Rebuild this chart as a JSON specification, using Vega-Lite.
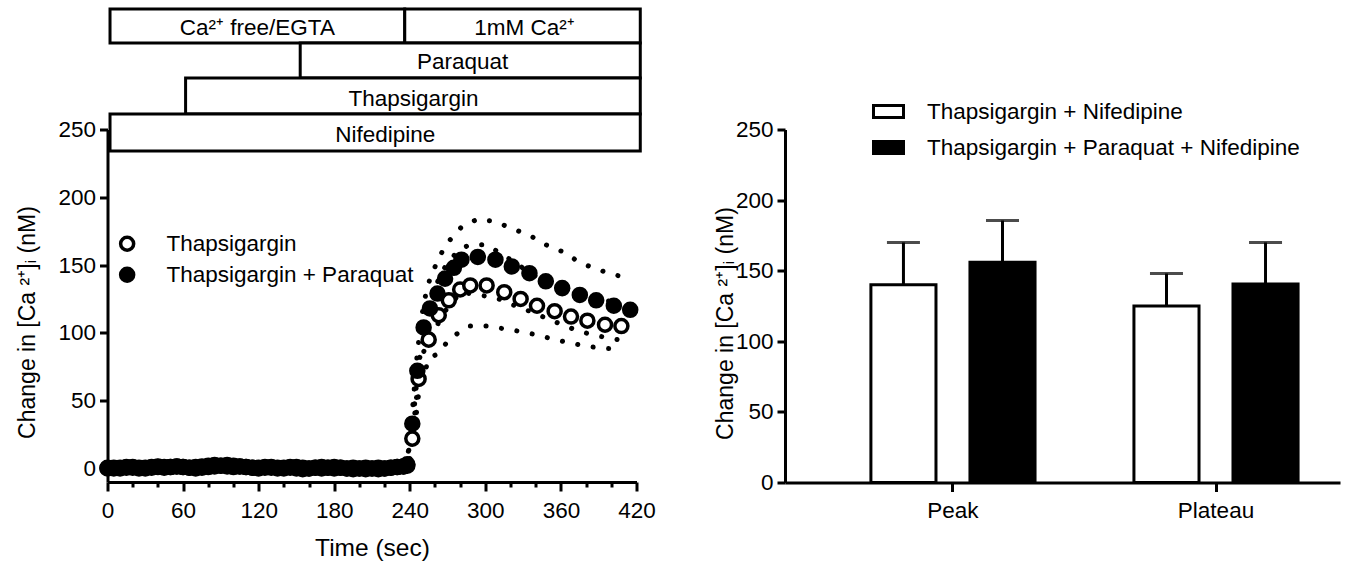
{
  "$schema": "https://vega.github.io/schema/vega-lite/v6.json",
  "background": "white",
  "padding": {"left": 15.5, "top": 6.5, "right": 10, "bottom": 5},
  "bounds": "flush",
  "spacing": 148.5,
  "resolve": {"scale": {"fill": "independent"}, "legend": {"fill": "independent"}},
  "config": {
    "view": {"stroke": null},
    "font": "Liberation Sans",
    "axis": {
      "domainColor": "black", "domainWidth": 3, "tickColor": "black", "tickWidth": 3,
      "labelFont": "Liberation Sans", "labelFontSize": 22.5, "labelColor": "black",
      "titleFont": "Liberation Sans", "titleFontSize": 23, "titleFontWeight": "normal", "titleColor": "black",
      "grid": false, "labelOverlap": false
    },
    "legend": {"labelFont": "Liberation Sans", "labelFontSize": 22.5, "labelColor": "black", "labelLimit": 600}
  },
  "datasets": {
    "boxes": [
      {"lbl": "Ca²⁺ free/EGTA", "s": 2, "e": 236, "y1": 313.8, "y2": 338.9, "lt": 119, "ym": 324.9},
      {"lbl": "1mM Ca²⁺", "s": 236, "e": 423, "y1": 313.8, "y2": 338.9, "lt": 331, "ym": 324.9},
      {"lbl": "Paraquat", "s": 153, "e": 423, "y1": 288.0, "y2": 313.8, "lt": 282, "ym": 299.8},
      {"lbl": "Thapsigargin", "s": 62, "e": 423, "y1": 261.4, "y2": 288.0, "lt": 243, "ym": 272.5},
      {"lbl": "Nifedipine", "s": 2, "e": 423, "y1": 234.1, "y2": 261.4, "lt": 220.5, "ym": 245.9}
    ],
    "ts": [
      {"g": "Thapsigargin", "t": 0, "m": 0.5, "hi": 3.5, "lo": -2.5},
      {"g": "Thapsigargin", "t": 5, "m": 0, "hi": 3, "lo": -3},
      {"g": "Thapsigargin", "t": 10, "m": 0.5, "hi": 3.5, "lo": -2.5},
      {"g": "Thapsigargin", "t": 15, "m": 1, "hi": 4, "lo": -2},
      {"g": "Thapsigargin", "t": 20, "m": 0.5, "hi": 3.5, "lo": -2.5},
      {"g": "Thapsigargin", "t": 25, "m": 0, "hi": 3, "lo": -3},
      {"g": "Thapsigargin", "t": 30, "m": 0.5, "hi": 3.5, "lo": -2.5},
      {"g": "Thapsigargin", "t": 35, "m": 1, "hi": 4, "lo": -2},
      {"g": "Thapsigargin", "t": 40, "m": 1.5, "hi": 4.5, "lo": -1.5},
      {"g": "Thapsigargin", "t": 45, "m": 1, "hi": 4, "lo": -2},
      {"g": "Thapsigargin", "t": 50, "m": 1, "hi": 4, "lo": -2},
      {"g": "Thapsigargin", "t": 55, "m": 1.5, "hi": 4.5, "lo": -1.5},
      {"g": "Thapsigargin", "t": 60, "m": 1, "hi": 4, "lo": -2},
      {"g": "Thapsigargin", "t": 65, "m": 0.5, "hi": 3.5, "lo": -2.5},
      {"g": "Thapsigargin", "t": 70, "m": 1, "hi": 4, "lo": -2},
      {"g": "Thapsigargin", "t": 75, "m": 1.5, "hi": 4.5, "lo": -1.5},
      {"g": "Thapsigargin", "t": 80, "m": 2, "hi": 5, "lo": -1},
      {"g": "Thapsigargin", "t": 85, "m": 2.5, "hi": 5.5, "lo": -0.5},
      {"g": "Thapsigargin", "t": 90, "m": 2, "hi": 5, "lo": -1},
      {"g": "Thapsigargin", "t": 95, "m": 1.5, "hi": 4.5, "lo": -1.5},
      {"g": "Thapsigargin", "t": 100, "m": 1, "hi": 4, "lo": -2},
      {"g": "Thapsigargin", "t": 105, "m": 1.5, "hi": 4.5, "lo": -1.5},
      {"g": "Thapsigargin", "t": 110, "m": 1, "hi": 4, "lo": -2},
      {"g": "Thapsigargin", "t": 115, "m": 0.5, "hi": 3.5, "lo": -2.5},
      {"g": "Thapsigargin", "t": 120, "m": 0.5, "hi": 3.5, "lo": -2.5},
      {"g": "Thapsigargin", "t": 125, "m": 1, "hi": 4, "lo": -2},
      {"g": "Thapsigargin", "t": 130, "m": 0.5, "hi": 3.5, "lo": -2.5},
      {"g": "Thapsigargin", "t": 135, "m": 0, "hi": 3, "lo": -3},
      {"g": "Thapsigargin", "t": 140, "m": 0.5, "hi": 3.5, "lo": -2.5},
      {"g": "Thapsigargin", "t": 145, "m": 1, "hi": 4, "lo": -2},
      {"g": "Thapsigargin", "t": 150, "m": 1, "hi": 4, "lo": -2},
      {"g": "Thapsigargin", "t": 155, "m": 0.5, "hi": 3.5, "lo": -2.5},
      {"g": "Thapsigargin", "t": 160, "m": 0, "hi": 3, "lo": -3},
      {"g": "Thapsigargin", "t": 165, "m": 0.5, "hi": 3.5, "lo": -2.5},
      {"g": "Thapsigargin", "t": 170, "m": 1, "hi": 4, "lo": -2},
      {"g": "Thapsigargin", "t": 175, "m": 0.5, "hi": 3.5, "lo": -2.5},
      {"g": "Thapsigargin", "t": 180, "m": 0, "hi": 3, "lo": -3},
      {"g": "Thapsigargin", "t": 185, "m": 0.5, "hi": 3.5, "lo": -2.5},
      {"g": "Thapsigargin", "t": 190, "m": 0, "hi": 3, "lo": -3},
      {"g": "Thapsigargin", "t": 195, "m": -0.5, "hi": 2.5, "lo": -3.5},
      {"g": "Thapsigargin", "t": 200, "m": 0, "hi": 3, "lo": -3},
      {"g": "Thapsigargin", "t": 205, "m": 0.5, "hi": 3.5, "lo": -2.5},
      {"g": "Thapsigargin", "t": 210, "m": 0, "hi": 3, "lo": -3},
      {"g": "Thapsigargin", "t": 215, "m": -0.5, "hi": 2.5, "lo": -3.5},
      {"g": "Thapsigargin", "t": 220, "m": 0, "hi": 3, "lo": -3},
      {"g": "Thapsigargin", "t": 225, "m": 0.5, "hi": 3.5, "lo": -2.5},
      {"g": "Thapsigargin", "t": 230, "m": 1, "hi": 4, "lo": -2},
      {"g": "Thapsigargin", "t": 235, "m": 1.5, "hi": 4.5, "lo": -1.5},
      {"g": "Thapsigargin", "t": 238, "m": 3, "hi": 6, "lo": 0},
      {"g": "Thapsigargin", "t": 242, "m": 22, "hi": 30, "lo": 14},
      {"g": "Thapsigargin", "t": 247, "m": 66, "hi": 78, "lo": 55},
      {"g": "Thapsigargin", "t": 255, "m": 95, "hi": 110, "lo": 81},
      {"g": "Thapsigargin", "t": 263, "m": 113, "hi": 141, "lo": 85},
      {"g": "Thapsigargin", "t": 271, "m": 124, "hi": 153, "lo": 95},
      {"g": "Thapsigargin", "t": 280, "m": 132, "hi": 162, "lo": 101},
      {"g": "Thapsigargin", "t": 288, "m": 135, "hi": 165, "lo": 105},
      {"g": "Thapsigargin", "t": 301, "m": 135, "hi": 165, "lo": 105},
      {"g": "Thapsigargin", "t": 315, "m": 130, "hi": 157, "lo": 103},
      {"g": "Thapsigargin", "t": 328, "m": 125, "hi": 149, "lo": 101},
      {"g": "Thapsigargin", "t": 341, "m": 120, "hi": 141, "lo": 98.5},
      {"g": "Thapsigargin", "t": 355, "m": 116, "hi": 137, "lo": 95},
      {"g": "Thapsigargin", "t": 368, "m": 112, "hi": 132, "lo": 92.5},
      {"g": "Thapsigargin", "t": 381, "m": 109, "hi": 128, "lo": 90},
      {"g": "Thapsigargin", "t": 395, "m": 106, "hi": 124, "lo": 88.5},
      {"g": "Thapsigargin", "t": 408, "m": 105, "hi": 122, "lo": 88},
      {"g": "Thapsigargin + Paraquat", "t": 0, "m": 0, "hi": 3, "lo": -3},
      {"g": "Thapsigargin + Paraquat", "t": 5, "m": 0.5, "hi": 3.5, "lo": -2.5},
      {"g": "Thapsigargin + Paraquat", "t": 10, "m": 0, "hi": 3, "lo": -3},
      {"g": "Thapsigargin + Paraquat", "t": 15, "m": 0.5, "hi": 3.5, "lo": -2.5},
      {"g": "Thapsigargin + Paraquat", "t": 20, "m": 1, "hi": 4, "lo": -2},
      {"g": "Thapsigargin + Paraquat", "t": 25, "m": 0.5, "hi": 3.5, "lo": -2.5},
      {"g": "Thapsigargin + Paraquat", "t": 30, "m": 0, "hi": 3, "lo": -3},
      {"g": "Thapsigargin + Paraquat", "t": 35, "m": 0.5, "hi": 3.5, "lo": -2.5},
      {"g": "Thapsigargin + Paraquat", "t": 40, "m": 1, "hi": 4, "lo": -2},
      {"g": "Thapsigargin + Paraquat", "t": 45, "m": 0.5, "hi": 3.5, "lo": -2.5},
      {"g": "Thapsigargin + Paraquat", "t": 50, "m": 1, "hi": 4, "lo": -2},
      {"g": "Thapsigargin + Paraquat", "t": 55, "m": 1.5, "hi": 4.5, "lo": -1.5},
      {"g": "Thapsigargin + Paraquat", "t": 60, "m": 1, "hi": 4, "lo": -2},
      {"g": "Thapsigargin + Paraquat", "t": 65, "m": 0.5, "hi": 3.5, "lo": -2.5},
      {"g": "Thapsigargin + Paraquat", "t": 70, "m": 0, "hi": 3, "lo": -3},
      {"g": "Thapsigargin + Paraquat", "t": 75, "m": 0.5, "hi": 3.5, "lo": -2.5},
      {"g": "Thapsigargin + Paraquat", "t": 80, "m": 1, "hi": 4, "lo": -2},
      {"g": "Thapsigargin + Paraquat", "t": 85, "m": 1.5, "hi": 4.5, "lo": -1.5},
      {"g": "Thapsigargin + Paraquat", "t": 90, "m": 2, "hi": 5, "lo": -1},
      {"g": "Thapsigargin + Paraquat", "t": 95, "m": 2.5, "hi": 5.5, "lo": -0.5},
      {"g": "Thapsigargin + Paraquat", "t": 100, "m": 2, "hi": 5, "lo": -1},
      {"g": "Thapsigargin + Paraquat", "t": 105, "m": 1.5, "hi": 4.5, "lo": -1.5},
      {"g": "Thapsigargin + Paraquat", "t": 110, "m": 1, "hi": 4, "lo": -2},
      {"g": "Thapsigargin + Paraquat", "t": 115, "m": 0.5, "hi": 3.5, "lo": -2.5},
      {"g": "Thapsigargin + Paraquat", "t": 120, "m": 0, "hi": 3, "lo": -3},
      {"g": "Thapsigargin + Paraquat", "t": 125, "m": 0.5, "hi": 3.5, "lo": -2.5},
      {"g": "Thapsigargin + Paraquat", "t": 130, "m": 1, "hi": 4, "lo": -2},
      {"g": "Thapsigargin + Paraquat", "t": 135, "m": 0.5, "hi": 3.5, "lo": -2.5},
      {"g": "Thapsigargin + Paraquat", "t": 140, "m": 0, "hi": 3, "lo": -3},
      {"g": "Thapsigargin + Paraquat", "t": 145, "m": 0.5, "hi": 3.5, "lo": -2.5},
      {"g": "Thapsigargin + Paraquat", "t": 150, "m": 0, "hi": 3, "lo": -3},
      {"g": "Thapsigargin + Paraquat", "t": 155, "m": -0.5, "hi": 2.5, "lo": -3.5},
      {"g": "Thapsigargin + Paraquat", "t": 160, "m": 0, "hi": 3, "lo": -3},
      {"g": "Thapsigargin + Paraquat", "t": 165, "m": 0.5, "hi": 3.5, "lo": -2.5},
      {"g": "Thapsigargin + Paraquat", "t": 170, "m": 0, "hi": 3, "lo": -3},
      {"g": "Thapsigargin + Paraquat", "t": 175, "m": 0.5, "hi": 3.5, "lo": -2.5},
      {"g": "Thapsigargin + Paraquat", "t": 180, "m": 1, "hi": 4, "lo": -2},
      {"g": "Thapsigargin + Paraquat", "t": 185, "m": 0.5, "hi": 3.5, "lo": -2.5},
      {"g": "Thapsigargin + Paraquat", "t": 190, "m": 0, "hi": 3, "lo": -3},
      {"g": "Thapsigargin + Paraquat", "t": 195, "m": 0.5, "hi": 3.5, "lo": -2.5},
      {"g": "Thapsigargin + Paraquat", "t": 200, "m": 0, "hi": 3, "lo": -3},
      {"g": "Thapsigargin + Paraquat", "t": 205, "m": -0.5, "hi": 2.5, "lo": -3.5},
      {"g": "Thapsigargin + Paraquat", "t": 210, "m": 0, "hi": 3, "lo": -3},
      {"g": "Thapsigargin + Paraquat", "t": 215, "m": 0.5, "hi": 3.5, "lo": -2.5},
      {"g": "Thapsigargin + Paraquat", "t": 220, "m": 0, "hi": 3, "lo": -3},
      {"g": "Thapsigargin + Paraquat", "t": 225, "m": 0.5, "hi": 3.5, "lo": -2.5},
      {"g": "Thapsigargin + Paraquat", "t": 230, "m": 1, "hi": 4, "lo": -2},
      {"g": "Thapsigargin + Paraquat", "t": 235, "m": 1.5, "hi": 4.5, "lo": -1.5},
      {"g": "Thapsigargin + Paraquat", "t": 238, "m": 2, "hi": 5, "lo": -1},
      {"g": "Thapsigargin + Paraquat", "t": 242, "m": 33, "hi": 42, "lo": 24},
      {"g": "Thapsigargin + Paraquat", "t": 246, "m": 72, "hi": 86, "lo": 58},
      {"g": "Thapsigargin + Paraquat", "t": 251, "m": 104, "hi": 122, "lo": 86},
      {"g": "Thapsigargin + Paraquat", "t": 256, "m": 118, "hi": 140, "lo": 97},
      {"g": "Thapsigargin + Paraquat", "t": 262, "m": 129, "hi": 153, "lo": 106},
      {"g": "Thapsigargin + Paraquat", "t": 268, "m": 140, "hi": 164, "lo": 116},
      {"g": "Thapsigargin + Paraquat", "t": 275, "m": 148, "hi": 172, "lo": 124},
      {"g": "Thapsigargin + Paraquat", "t": 281, "m": 154, "hi": 178, "lo": 130},
      {"g": "Thapsigargin + Paraquat", "t": 294, "m": 156, "hi": 184, "lo": 128},
      {"g": "Thapsigargin + Paraquat", "t": 308, "m": 154, "hi": 182, "lo": 126},
      {"g": "Thapsigargin + Paraquat", "t": 321, "m": 149, "hi": 177, "lo": 121},
      {"g": "Thapsigargin + Paraquat", "t": 335, "m": 144, "hi": 172, "lo": 116},
      {"g": "Thapsigargin + Paraquat", "t": 348, "m": 138, "hi": 165, "lo": 111},
      {"g": "Thapsigargin + Paraquat", "t": 361, "m": 133, "hi": 160, "lo": 106},
      {"g": "Thapsigargin + Paraquat", "t": 375, "m": 128, "hi": 152, "lo": 101},
      {"g": "Thapsigargin + Paraquat", "t": 388, "m": 124, "hi": 147, "lo": 98},
      {"g": "Thapsigargin + Paraquat", "t": 402, "m": 120, "hi": 143, "lo": 95.5},
      {"g": "Thapsigargin + Paraquat", "t": 415, "m": 117, "hi": 140, "lo": 93.5}
    ],
    "bars": [
      {"phase": "Peak", "g": "Thapsigargin + Nifedipine", "m": 140, "hi": 170},
      {"phase": "Peak", "g": "Thapsigargin + Paraquat + Nifedipine", "m": 156, "hi": 185.5},
      {"phase": "Plateau", "g": "Thapsigargin + Nifedipine", "m": 125, "hi": 148},
      {"phase": "Plateau", "g": "Thapsigargin + Paraquat + Nifedipine", "m": 140.5, "hi": 170}
    ]
  },
  "hconcat": [
    {
      "width": 529,
      "height": 352.5,
      "resolve": {"axis": {"x": "independent"}},
      "layer": [
        {
          "data": {"name": "boxes"},
          "mark": {"type": "rect", "fill": "white", "stroke": "black", "strokeWidth": 3, "clip": false},
          "encoding": {
            "x": {"field": "s", "type": "quantitative", "title": "Time (sec)",
              "scale": {"domain": [0, 420], "nice": false, "zero": false},
              "axis": {
                "orient": "bottom",
                "values": [0, 60, 120, 180, 240, 300, 360, 420],
                "tickSize": 9,
                "labelPadding": 8, "labelFlush": false, "labelOverlap": false, "labelBound": false,
                "titleY": 54, "titleBaseline": "top", "titleFontSize": 24.5
              }},
            "x2": {"field": "e"},
            "y": {"field": "y1", "type": "quantitative", "title": "Change in [Ca ²⁺]ᵢ (nM)",
              "scale": {"domain": [-10, 250], "nice": false, "zero": false},
              "axis": {
                "values": [0, 25, 50, 75, 100, 125, 150, 175, 200, 225, 250],
                "labelExpr": "datum.value % 50 === 0 ? datum.label : ''",
                "tickSize": {"condition": {"test": "datum.value % 50 === 0", "value": 8}, "value": 4.5},
                "labelPadding": 4, "labelOverlap": false, "labelFlush": false,
                "titleX": -80.5, "titleY": 192.5, "titleBaseline": "middle", "titleAlign": "center", "titleAngle": -90
              }},
            "y2": {"field": "y2"}
          }
        },
        {
          "data": {"name": "boxes"},
          "mark": {"type": "text", "fontSize": 22.5, "font": "Liberation Sans", "color": "black", "baseline": "middle", "align": "center", "clip": false},
          "encoding": {
            "x": {"field": "lt", "type": "quantitative", "axis": null},
            "y": {"field": "ym", "type": "quantitative", "title": "Change in [Ca ²⁺]ᵢ (nM)"},
            "text": {"field": "lbl"}
          }
        },
        {
          "data": {"name": "ts"},
          "mark": {"type": "line", "stroke": "black", "strokeWidth": 5, "strokeDash": [0.1, 15.5], "strokeCap": "round"},
          "encoding": {
            "x": {"field": "t", "type": "quantitative",
              "axis": {"orient": "bottom", "title": null, "labels": false, "domain": false, "grid": false,
                "values": [20, 40, 80, 100, 140, 160, 200, 220, 260, 280, 320, 340, 380, 400], "tickSize": 5}},
            "y": {"field": "hi", "type": "quantitative", "title": "Change in [Ca ²⁺]ᵢ (nM)"},
            "detail": {"field": "g"}
          }
        },
        {
          "data": {"name": "ts"},
          "mark": {"type": "line", "stroke": "black", "strokeWidth": 5, "strokeDash": [0.1, 15.5], "strokeCap": "round"},
          "encoding": {
            "x": {"field": "t", "type": "quantitative", "axis": null},
            "y": {"field": "lo", "type": "quantitative", "title": "Change in [Ca ²⁺]ᵢ (nM)"},
            "detail": {"field": "g"}
          }
        },
        {
          "data": {"name": "ts"},
          "mark": {"type": "point", "shape": "circle", "filled": true, "stroke": "black", "strokeWidth": 3.5, "size": 170, "opacity": 1},
          "encoding": {
            "x": {"field": "t", "type": "quantitative", "axis": null},
            "y": {"field": "m", "type": "quantitative", "title": "Change in [Ca ²⁺]ᵢ (nM)"},
            "fill": {"field": "g", "type": "nominal",
              "scale": {"domain": ["Thapsigargin", "Thapsigargin + Paraquat"], "range": ["white", "black"]},
              "legend": {"title": null, "orient": "none", "legendX": 8.4, "legendY": 103,
                "symbolType": "circle", "symbolSize": 170, "symbolStrokeColor": "black", "symbolStrokeWidth": 3.5,
                "labelOffset": 28, "rowPadding": 3, "padding": 0}}
          }
        }
      ]
    },
    {
      "width": 555,
      "height": 353,
      "data": {"name": "bars"},
      "encoding": {
        "x": {"field": "phase", "type": "nominal", "title": null,
          "scale": {"domain": ["Peak", "Plateau"], "paddingInner": 0.376, "paddingOuter": 0.243, "align": 0.672},
          "axis": {"labelAngle": 0, "tickSize": 9, "labelPadding": 8}},
        "xOffset": {"field": "g", "type": "nominal",
          "scale": {"domain": ["Thapsigargin + Nifedipine", "Thapsigargin + Paraquat + Nifedipine"], "paddingInner": 0.343, "paddingOuter": 0}}
      },
      "layer": [
        {
          "mark": {"type": "rule", "color": "black", "strokeWidth": 3},
          "encoding": {
            "y": {"field": "m", "type": "quantitative", "title": "Change in [Ca ²⁺]ᵢ (nM)",
              "scale": {"domain": [0, 250], "nice": false},
              "axis": {
                "values": [0, 25, 50, 75, 100, 125, 150, 175, 200, 225, 250],
                "labelExpr": "datum.value % 50 === 0 ? datum.label : ''",
                "tickSize": {"condition": {"test": "datum.value % 50 === 0", "value": 8}, "value": 4.5},
                "labelPadding": 4, "labelOverlap": false, "labelFlush": false,
                "titleX": -60, "titleY": 193.5, "titleBaseline": "middle", "titleAlign": "center", "titleAngle": -90
              }},
            "y2": {"field": "hi"}
          }
        },
        {
          "mark": {"type": "tick", "color": "black", "thickness": 3, "size": 33},
          "encoding": {
            "y": {"field": "hi", "type": "quantitative", "title": "Change in [Ca ²⁺]ᵢ (nM)"}
          }
        },
        {
          "mark": {"type": "bar", "stroke": "black", "strokeWidth": 3},
          "encoding": {
            "y": {"field": "m", "type": "quantitative", "title": "Change in [Ca ²⁺]ᵢ (nM)"},
            "fill": {"field": "g", "type": "nominal",
              "scale": {"domain": ["Thapsigargin + Nifedipine", "Thapsigargin + Paraquat + Nifedipine"], "range": ["white", "black"]},
              "legend": {"title": null, "orient": "none", "legendX": 87, "legendY": -34.5,
                "symbolType": "M-1,-0.4H1V0.4H-1Z", "symbolSize": 900, "symbolStrokeColor": "black", "symbolStrokeWidth": 3,
                "labelOffset": 22, "rowPadding": 7, "padding": 0}}
          }
        }
      ]
    }
  ]
}
